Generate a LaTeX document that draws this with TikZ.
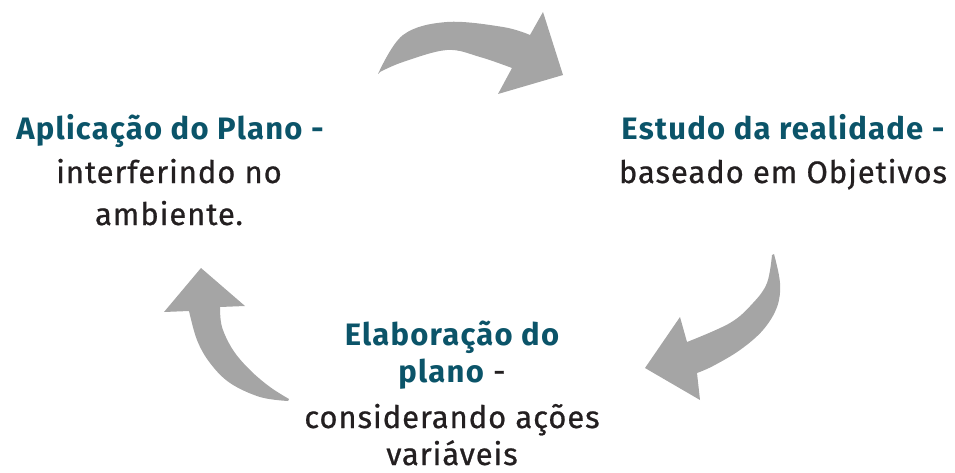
\documentclass[tikz,border=0pt]{standalone}
\usepackage{fontspec}
\setmainfont{Fira Sans}[LetterSpace=3.0, FakeBold=0.7, BoldFeatures={LetterSpace=4.0, FakeBold=0}]
\definecolor{tealtxt}{HTML}{0B5469}
\definecolor{arrowgray}{HTML}{A5A5A5}
\definecolor{bodytxt}{HTML}{231F20}
\begin{document}
\begin{tikzpicture}[x=1pt,y=-1pt,
  line/.style={anchor=base, inner sep=0pt, font=\fontsize{31}{36}\selectfont, text=bodytxt},
  head/.style={line, font=\fontsize{31}{36}\selectfont\bfseries, text=tealtxt},
  cyc/.style={fill=arrowgray, draw=none}]
\useasboundingbox (0,0) rectangle (955,473);
% top arrow
\fill[cyc] plot[smooth, tension=0.6] coordinates {(378,74) (403,35) (447,22) (503,27) (530,35)}
  -- (543,12) -- (563,75) -- (498,94) -- (512,68)
  -- plot[smooth, tension=0.6] coordinates {(512,68) (480,57) (447,50) (403,62) (380,72)} -- cycle;
% right arrow
\fill[cyc] plot[smooth, tension=0.6] coordinates {(774,254) (780,283) (777,307) (763,330) (740,350) (713,366) (697,373)}
  -- (700,400) -- (645,368) -- (680,317) -- (687,342)
  -- plot[smooth, tension=0.6] coordinates {(687,342) (730,323) (753,303) (767,283) (772,255)} -- cycle;
% left arrow
\fill[cyc] (201,268) -- (245,306) -- (220,307)
  -- plot[smooth, tension=0.6] coordinates {(220,307) (222,327) (233,350) (250,370) (270,387) (289,399)}
  -- plot[smooth, tension=0.6] coordinates {(288,401) (260,397) (230,383) (210,363) (197,340) (189,311)}
  -- (164,312) -- cycle;
% texts
\node[head] (a1) at (170,140) {Aplicação do Plano -};
\node[line] (a2) at (169,183) {interferindo no};
\node[line] (a3) at (169,225) {ambiente.};
\node[head] (e1) at (783,140) {Estudo da realidade -};
\node[line] (e2) at (783,183) {baseado em Objetivos};
\node[head] (p1) at (452,345) {Elaboração do};
\node[line] (p2) at (452,382) {\textcolor{tealtxt}{\bfseries plano} -};
\node[line] (p3) at (452,428) {considerando ações};
\node[line] (p4) at (452,465) {variáveis};
\end{tikzpicture}
\end{document}
